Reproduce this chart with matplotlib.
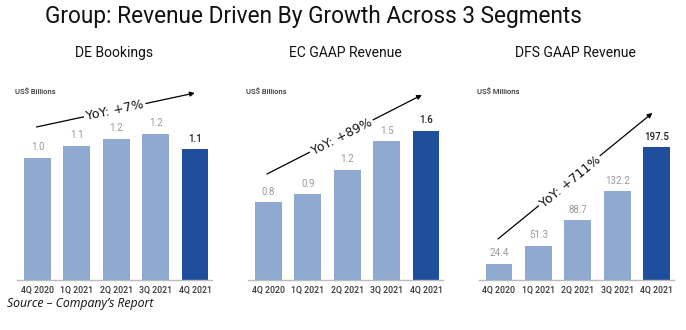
import numpy as np
import matplotlib
matplotlib.use("Agg")
import matplotlib.pyplot as plt

quarters = ["4Q 2020", "1Q 2021", "2Q 2021", "3Q 2021", "4Q 2021"]

de_bookings = [1.00, 1.10, 1.16, 1.20, 1.07]      # US$ billions
ec_revenue = [0.82, 0.90, 1.16, 1.46, 1.57]       # US$ billions
dfs_revenue = [24.4, 51.3, 88.7, 132.2, 197.5]    # US$ millions

panel_titles = ["DE Bookings", "EC GAAP Revenue", "DFS GAAP Revenue"]
units = ["US$ Billions", "US$ Billions", "US$ Millions"]
yoy_labels = ["YoY: +7%", "YoY: +89%", "YoY: +711%"]

light = "#8FA9D1"
dark = "#1F4E9C"

plt.rcParams["font.family"] = ["Roboto", "DejaVu Sans"]

fig = plt.figure(figsize=(6.86, 3.30), dpi=100)
W, H = 686, 330

def px_axes(left, top, width, bottom):
    return fig.add_axes([left / W, (H - bottom) / H, width / W, (bottom - top) / H])

lefts = [17, 248, 478.5]
ylims = [1.574, 2.02, 285.7]
series = [de_bookings, ec_revenue, dfs_revenue]
# arrow start/end and label spot, in axes fraction
arrows = [
    ((0.10, 0.797), (0.91, 0.974), (0.50, 0.885)),
    ((0.097, 0.552), (0.89, 0.964), (0.48, 0.745)),
    ((0.10, 0.214), (0.89, 0.87), (0.47, 0.51)),
]

x = np.arange(len(quarters))
for i, ax_left in enumerate(lefts):
    ax = px_axes(ax_left, 88, 195.4, 280)
    vals = series[i]
    colors = [light] * (len(vals) - 1) + [dark]
    ax.bar(x, vals, width=0.68, color=colors)
    ax.set_xlim(-0.52, 4.44)
    ax.set_ylim(0, ylims[i])
    ax.set_xticks(x)
    ax.set_xticklabels(quarters, fontsize=6.3, color="#333333", fontweight="medium")
    ax.tick_params(axis="x", length=0, pad=4)
    ax.set_yticks([])
    for s in ["top", "left", "right"]:
        ax.spines[s].set_visible(False)
    ax.spines["bottom"].set_color("#BBBBBB")
    ax.spines["bottom"].set_linewidth(1)

    for j, v in enumerate(vals):
        last = j == len(vals) - 1
        ax.annotate(f"{v:.1f}", (x[j], v), xytext=(0, 4), textcoords="offset points",
                    ha="center", va="bottom", fontsize=7,
                    color="#222222" if last else "#9A9A9A",
                    fontweight="medium" if last else "normal")

    ax.text(-0.01, 0.975, units[i], transform=ax.transAxes, fontsize=5.5,
            color="#333333", ha="left", va="center", fontweight="medium")

    (x0, y0), (x1, y1), (tx, ty) = arrows[i]
    ax.annotate("", xy=(x1, y1), xytext=(x0, y0), xycoords="axes fraction",
                arrowprops=dict(arrowstyle="-|>", color="black", lw=0.9,
                                mutation_scale=7, shrinkA=0, shrinkB=0))
    bb = ax.get_window_extent()
    ang = np.degrees(np.arctan2((y1 - y0) * bb.height, (x1 - x0) * bb.width))
    ax.text(tx, ty, yoy_labels[i], transform=ax.transAxes, rotation=ang,
            rotation_mode="anchor", ha="center", va="center", fontsize=9,
            family="DejaVu Sans", color="#111111",
            bbox=dict(facecolor="white", edgecolor="none", pad=1.5))

    fig.text((ax_left + 97.7 - 0.8) / W, (H - 57) / H, panel_titles[i],
             ha="center", va="baseline", fontsize=10, color="#111111")

fig.text(45 / W, (H - 23) / H, "Group: Revenue Driven By Growth Across 3 Segments",
         ha="left", va="baseline", fontsize=16.3, color="#111111")
fig.text(7 / W, (H - 303) / H, "Source \u2013 Company\u2019s Report", ha="left",
         va="center", fontsize=8.8, style="italic", family="Open Sans", color="#111111")

fig.savefig("out.png", dpi=100)
